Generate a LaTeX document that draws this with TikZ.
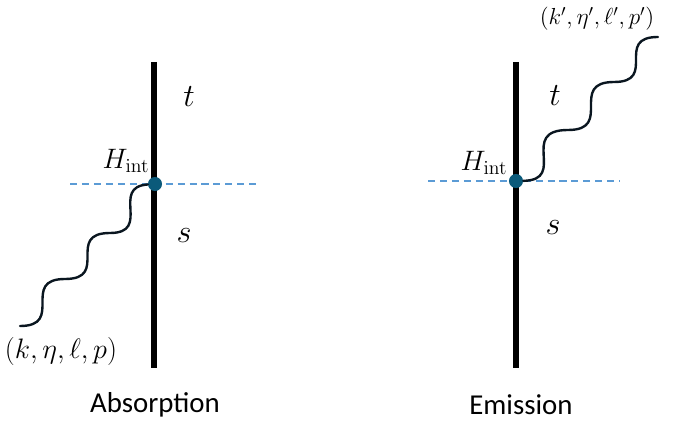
\RequirePackage{fix-cm}
\documentclass[tikz,border=0pt]{standalone}
\usepackage[no-math]{fontspec}
\newfontfamily\capfont{Carlito}
\usetikzlibrary{positioning}
\definecolor{dotblue}{HTML}{0B5A7A}
\definecolor{dashblue}{HTML}{5B9BD5}
\definecolor{photonink}{HTML}{0A1620}

\begin{document}
\begin{tikzpicture}[
  x=0.025cm, y=-0.025cm,
  worldline/.style={line width=3.6pt},
  photon/.style={line width=1.7pt, draw=photonink, line cap=round},
  vertex/.style={circle, fill=dotblue, inner sep=0pt, minimum size=10pt},
  level/.style={draw=dashblue, line width=0.9pt, dash pattern=on 5pt off 3.5pt},
  bigvar/.style={font=\fontsize{23}{26}\selectfont},
  hlabel/.style={font=\fontsize{20}{22}\selectfont},
  tuple/.style={font=\fontsize{20}{22}\selectfont},
  caption/.style={font=\capfont\fontsize{20.5}{24}\selectfont},
]
\useasboundingbox (0,0) rectangle (690,425);

% ===== LEFT: Absorption =====
\coordinate (topA) at (154,62);
\coordinate (botA) at (154,368);
\coordinate (dashLA) at (70,184);
\coordinate (dashRA) at (260,184);
\coordinate (inA) at (20,326);
\draw[worldline] (topA) -- (botA);
\draw[level] (dashLA) -- (dashRA);
\node[vertex] (vA) at (155,184) {};
\draw[photon] (inA) .. controls (65,326) and (20,279) .. (65,279)
  .. controls (110,279) and (65,233) .. (110,233)
  .. controls (152,233) and (110,187) .. (vA);

\node[bigvar] (tA) at (189,97) {$t$};
\node[bigvar] (sA) at (184,236) {$s$};
\node[hlabel] (hA) at (126,161) {$H_{\mathrm{int}}$};
\node[tuple] (kA) at (61,351) {$(k,\eta,\ell,p)$};
\node[caption] (capA) at (155,405) {Absorption};

% ===== RIGHT: Emission =====
\coordinate (topE) at (516,62);
\coordinate (botE) at (516,368);
\coordinate (dashLE) at (428,181);
\coordinate (dashRE) at (620,181);
\coordinate (outE) at (658,37);
\draw[worldline] (topE) -- (botE);
\draw[level] (dashLE) -- (dashRE);
\node[vertex] (vE) at (516,181) {};
\draw[photon] (vE) .. controls (568,180) and (518,130) .. (568,130)
  .. controls (614,130) and (568,82) .. (614,82)
  .. controls (658,82) and (614,37) .. (outE);

\node[bigvar] (tE) at (555,96) {$t$};
\node[bigvar] (sE) at (553,228) {$s$};
\node[hlabel] (hE) at (484,163) {$H_{\mathrm{int}}$};
\node[tuple, font=\fontsize{16.5}{19}\selectfont] (kE) at (597,19)
  {$(k',\eta',\ell',p')$};
\node[caption] (capE) at (521,405) {Emission};

\end{tikzpicture}
\end{document}
